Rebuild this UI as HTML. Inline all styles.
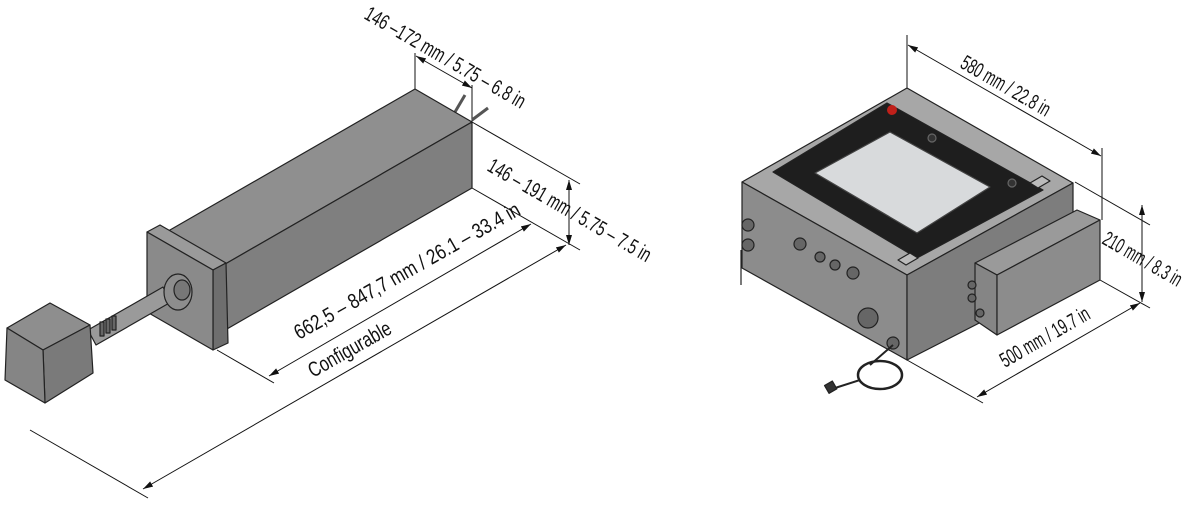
<!DOCTYPE html>
<html><head><meta charset="utf-8"><style>html,body{margin:0;padding:0;background:#fff}svg{display:block}text{font-family:"Liberation Sans",sans-serif;font-size:21px;fill:#111}</style></head>
<body>
<svg width="1200" height="511" viewBox="0 0 1200 511" xmlns="http://www.w3.org/2000/svg">
<defs>
<marker id="ar" viewBox="0 0 10 6" refX="10" refY="3" markerWidth="10" markerHeight="6" orient="auto-start-reverse" markerUnits="userSpaceOnUse"><path d="M0,0 L10,3 L0,6 z" fill="#111"/></marker>
</defs>
<g stroke="#111" stroke-width="1" fill="none">
<line x1="415" y1="53" x2="415" y2="89"/>
<line x1="472" y1="85" x2="472" y2="122"/>
<line x1="416" y1="56" x2="472" y2="88" marker-start="url(#ar)" marker-end="url(#ar)"/>
<line x1="472" y1="122" x2="580" y2="184"/>
<line x1="472" y1="188" x2="580" y2="250"/>
<line x1="569" y1="180" x2="569" y2="245" marker-start="url(#ar)" marker-end="url(#ar)"/>
<line x1="217" y1="350" x2="274" y2="383"/>
<line x1="269" y1="376" x2="531" y2="224" marker-start="url(#ar)" marker-end="url(#ar)"/>
<line x1="30" y1="430" x2="148" y2="498"/>
<line x1="143" y1="489" x2="566" y2="245" marker-start="url(#ar)" marker-end="url(#ar)"/>
<line x1="907" y1="35" x2="907" y2="88"/>
<line x1="1102" y1="148" x2="1102" y2="220"/>
<line x1="908" y1="45" x2="1101" y2="156" marker-start="url(#ar)" marker-end="url(#ar)"/>
<line x1="1075" y1="182" x2="1150" y2="225"/>
<line x1="1100" y1="280" x2="1150" y2="308"/>
<line x1="1142" y1="205" x2="1142" y2="302" marker-start="url(#ar)" marker-end="url(#ar)"/>
<line x1="907" y1="360" x2="983" y2="403"/>
<line x1="977" y1="397" x2="1140" y2="303" marker-start="url(#ar)" marker-end="url(#ar)"/>
</g>

<g stroke="#222" stroke-width="1.2" stroke-linejoin="round">
<line x1="455" y1="112" x2="465" y2="95" stroke="#555" stroke-width="3"/>
<line x1="472" y1="120" x2="488" y2="108" stroke="#555" stroke-width="3"/>
<polygon points="415,89 472,122 220,267 163,234" fill="#8f8f8f"/>
<polygon points="472,122 472,188 220,333 220,267" fill="#7f7f7f"/>
<polygon points="147,232 160,225 226,263 213,270" fill="#9a9a9a"/>
<polygon points="213,270 226,263 228,343 213,350" fill="#6e6e6e"/>
<polygon points="147,232 213,270 213,350 147,312" fill="#8a8a8a"/>
<polygon points="88,330 163,287 171,302 96,345" fill="#9a9a9a"/>
<ellipse cx="178" cy="292" rx="14" ry="18" fill="#8d8d8d"/>
<ellipse cx="182" cy="290" rx="8" ry="10" fill="#777"/>
<g fill="#666"><rect x="100" y="322" width="4" height="14"/><rect x="106" y="319" width="4" height="14"/><rect x="112" y="316" width="4" height="14"/></g>
<polygon points="7,328 50,303 90,325 43,350" fill="#8e8e8e"/>
<polygon points="43,350 90,325 93,373 45,403" fill="#7a7a7a"/>
<polygon points="7,328 43,350 45,403 5,380" fill="#858585"/>
</g>

<g stroke="#222" stroke-width="1.2" stroke-linejoin="round">
<polygon points="907,88 1073,183 907,275 742,182" fill="#a7a7a7"/>
<polygon points="742,182 907,275 907,360 742,268" fill="#8c8c8c"/>
<polygon points="907,275 1073,183 1073,275 907,360" fill="#7d7d7d"/>
<polygon points="887,103 1043,190 917,258 773,172" fill="#1e1e1e"/>
<polygon points="890,132 990,187 917,233 815,173" fill="#d8dadc" stroke="#444"/>
<circle cx="892" cy="110" r="5" fill="#c0201a" stroke="none"/>
<circle cx="932" cy="138" r="4" fill="#333" stroke="#666"/>
<circle cx="1012" cy="183" r="4" fill="#333" stroke="#666"/>
<polygon points="1030,183 1042,176 1050,181 1038,188" fill="#bbb"/>
<polygon points="898,260 910,253 918,258 906,265" fill="#bbb"/>
<polygon points="975,263 1077,210 1100,220 997,275" fill="#9a9a9a"/>
<polygon points="975,263 997,275 997,335 975,320" fill="#858585"/>
<polygon points="997,275 1100,220 1100,280 997,335" fill="#8c8c8c"/>
<g fill="#666"><circle cx="748" cy="225" r="6"/><circle cx="748" cy="245" r="6"/><circle cx="800" cy="244" r="6"/><circle cx="820" cy="257" r="5"/><circle cx="835" cy="265" r="5"/><circle cx="853" cy="273" r="6"/><circle cx="868" cy="318" r="10"/><circle cx="893" cy="343" r="6"/><circle cx="972" cy="285" r="4"/><circle cx="972" cy="298" r="4"/><circle cx="980" cy="313" r="4"/></g>
<line x1="741" y1="250" x2="741" y2="285"/>
<ellipse cx="880" cy="375" rx="22" ry="14" fill="none" stroke="#222" stroke-width="2.5"/>
<path d="M893,345 L870,365 M860,380 L835,388" fill="none" stroke-width="2"/>
<rect x="826" y="383" width="9" height="9" fill="#333" transform="rotate(-30 830 387)"/>
</g>

<text transform="translate(363,18) rotate(30)" textLength="182" lengthAdjust="spacingAndGlyphs">146 –172 mm / 5.75 – 6.8 in</text>
<text transform="translate(486,170) rotate(30)" textLength="185" lengthAdjust="spacingAndGlyphs">146 – 191 mm / 5.75 – 7.5 in</text>
<text transform="translate(299,340) rotate(-29.5)" textLength="256" lengthAdjust="spacingAndGlyphs">662,5 – 847,7 mm / 26.1 – 33.4 in</text>
<text transform="translate(313,378) rotate(-29.5)" textLength="92" lengthAdjust="spacingAndGlyphs">Configurable</text>
<text transform="translate(959,67) rotate(30)" textLength="100" lengthAdjust="spacingAndGlyphs">580 mm / 22.8 in</text>
<text transform="translate(1101,243) rotate(30)" textLength="88" lengthAdjust="spacingAndGlyphs">210 mm / 8.3 in</text>
<text transform="translate(1005,368) rotate(-30)" textLength="100" lengthAdjust="spacingAndGlyphs">500 mm / 19.7 in</text>
</svg>
</body></html>
